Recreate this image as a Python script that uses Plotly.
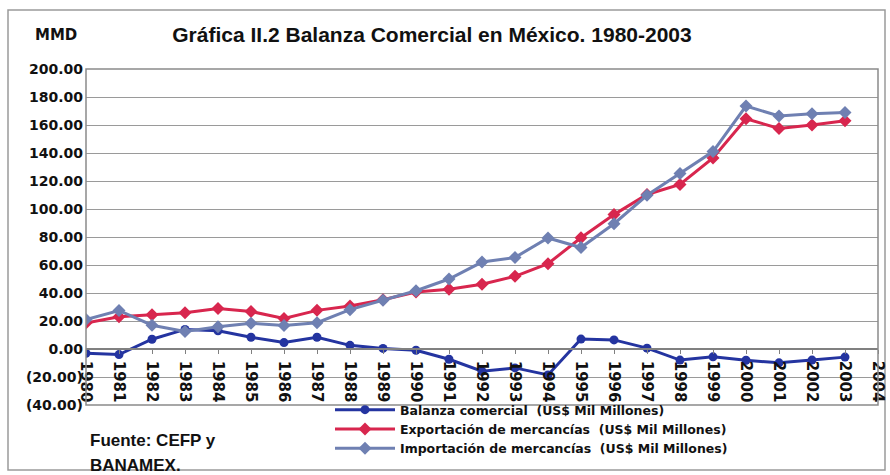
import plotly.graph_objects as go

years = [1980, 1981, 1982, 1983, 1984, 1985, 1986, 1987, 1988, 1989, 1990, 1991,
         1992, 1993, 1994, 1995, 1996, 1997, 1998, 1999, 2000, 2001, 2002, 2003]
axis_years = years + [2004]

balanza = [-3.0, -4.0, 7.0, 14.0, 13.0, 8.4, 4.6, 8.4, 2.6, 0.4, -0.9, -7.3,
           -15.9, -13.5, -18.5, 7.1, 6.5, 0.6, -7.9, -5.6, -8.0, -9.9, -7.9, -5.8]
exportacion = [18.5, 23.0, 24.5, 25.9, 29.0, 26.8, 21.8, 27.6, 30.7, 35.2, 40.7, 42.7,
               46.2, 51.9, 60.9, 79.5, 96.0, 110.4, 117.5, 136.4, 164.5, 157.5, 160.0, 163.0]
importacion = [21.0, 27.5, 17.0, 12.5, 15.9, 18.4, 16.8, 18.8, 28.1, 34.8, 41.6, 50.0,
               62.1, 65.4, 79.3, 72.5, 89.5, 109.8, 125.4, 141.0, 173.5, 166.5, 168.0, 169.0]

y_ticks = [200, 180, 160, 140, 120, 100, 80, 60, 40, 20, 0, -20, -40]
y_ticktext = ["200.00", "180.00", "160.00", "140.00", "120.00", "100.00", "80.00",
              "60.00", "40.00", "20.00", "0.00", "(20.00)", "(40.00)"]

names = ["Balanza comercial  (US$ Mil Millones)",
         "Exportación de mercancías  (US$ Mil Millones)",
         "Importación de mercancías  (US$ Mil Millones)"]

FONT = "Liberation Sans, Arial, sans-serif"
WIDE = "DejaVu Sans, Verdana, sans-serif"

fig = go.Figure()
fig.add_trace(go.Scatter(x=years, y=balanza, name=names[0], mode="lines+markers",
                         line=dict(color="#2434a0", width=3),
                         marker=dict(symbol="circle", size=9, color="#2434a0")))
fig.add_trace(go.Scatter(x=years, y=exportacion, name=names[1], mode="lines+markers",
                         line=dict(color="#d8264e", width=3),
                         marker=dict(symbol="diamond", size=10, color="#d8264e")))
fig.add_trace(go.Scatter(x=years, y=importacion, name=names[2], mode="lines+markers",
                         line=dict(color="#6f80b2", width=3),
                         marker=dict(symbol="diamond", size=10, color="#6f80b2")))

W, H = 890, 475
L, R, T, B = 86, 12, 69, 70
pw, ph = W - L - R, H - T - B


def px_x(p):
    return (p - L) / pw


def px_y(p):
    return (H - B - p) / ph


shapes = [
    dict(type="rect", xref="paper", yref="paper", x0=px_x(8), x1=px_x(885),
         y0=px_y(470), y1=px_y(10), line=dict(color="#9a9a9a", width=1.5), layer="below"),
    dict(type="rect", xref="paper", yref="paper", x0=0, x1=1, y0=0, y1=1,
         line=dict(color="#8a8a8a", width=1.5)),
]

fig.update_layout(
    width=W, height=H,
    margin=dict(l=L, r=R, t=T, b=B, autoexpand=False),
    paper_bgcolor="white", plot_bgcolor="white",
    font=dict(family=FONT, color="#111111"),
    title=dict(text="<b>Gráfica II.2 Balanza Comercial en México. 1980-2003</b>",
               x=432 / W, xanchor="center", xref="container",
               y=1 - 35 / H, yanchor="middle", yref="container",
               font=dict(size=21, family=FONT, color="#111111")),
    xaxis=dict(range=[1980, 2004], tickmode="array", tickvals=axis_years,
               ticktext=[str(y) for y in axis_years], tickangle=90,
               anchor="free", position=40 / 240, automargin=False,
               showline=True, linecolor="#808080", linewidth=1.5,
               ticks="outside", ticklen=4, tickcolor="#808080",
               ticklabelstandoff=4,
               showgrid=False, zeroline=False,
               tickfont=dict(size=15, family=WIDE, weight="bold", color="#111111")),
    yaxis=dict(range=[-40, 200], tickmode="array", tickvals=y_ticks, ticktext=y_ticktext,
               showgrid=True, gridcolor="#9a9a9a", gridwidth=1.2, automargin=False,
               zeroline=False, showline=False, ticks="", ticklabelstandoff=2,
               tickfont=dict(size=14, family=WIDE, weight="bold", color="#111111")),
    legend=dict(x=330 / W, y=1 - 395 / H, xref="container", yref="container",
                xanchor="left", yanchor="top",
                orientation="v", tracegroupgap=0, itemwidth=60,
                font=dict(size=12.5, family=WIDE, weight="bold", color="#111111"),
                bgcolor="rgba(0,0,0,0)"),
    shapes=shapes,
    annotations=[
        dict(text="<b>MMD</b>", xref="paper", yref="paper", x=px_x(33), y=px_y(35),
             xanchor="left", yanchor="middle", showarrow=False,
             font=dict(size=15, family=WIDE, color="#111111")),
        dict(text="<b>Fuente: CEFP y</b>", xref="paper", yref="paper", x=px_x(88), y=px_y(440),
             xanchor="left", yanchor="middle", showarrow=False,
             font=dict(size=17, family=FONT, color="#111111")),
        dict(text="<b>BANAMEX.</b>", xref="paper", yref="paper", x=px_x(88), y=px_y(465),
             xanchor="left", yanchor="middle", showarrow=False,
             font=dict(size=17, family=FONT, color="#111111")),
    ],
)

fig.write_html("out.html", config={"displayModeBar": False},
               post_script="document.body.style.margin='0';")
